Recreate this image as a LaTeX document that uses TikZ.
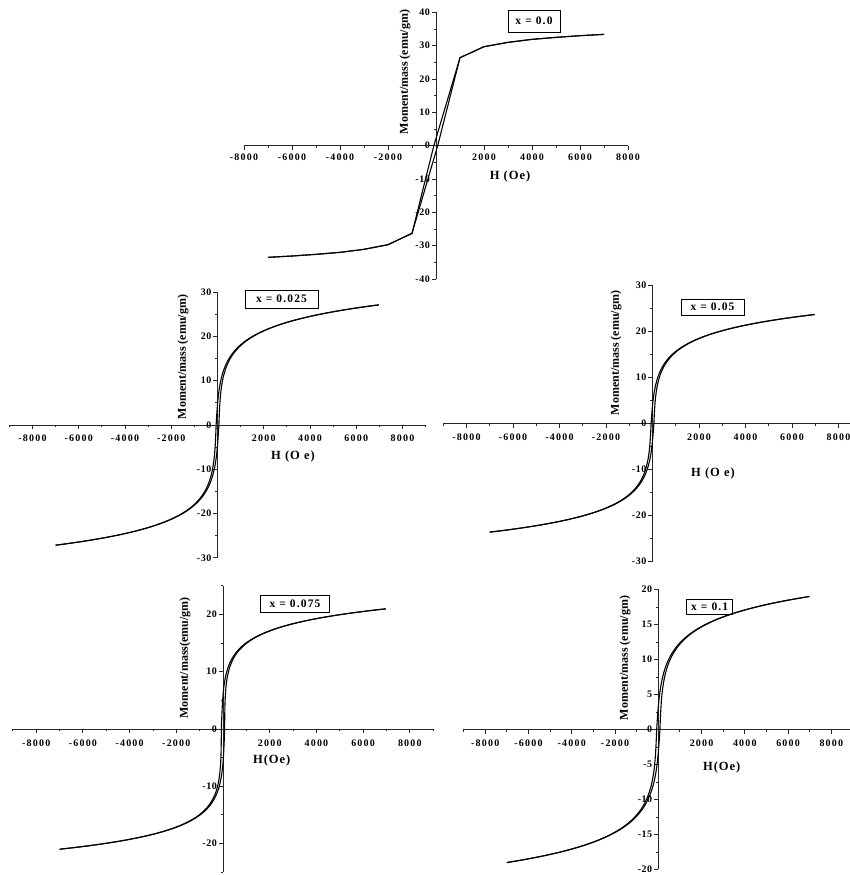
\documentclass[tikz,border=0pt]{standalone}
\usepackage{fontspec}
\setmainfont{Liberation Serif}
\tikzset{
  axisline/.style={line width=0.9pt, draw=black!85},
  curve/.style={line width=1.1pt, draw=black},
  tlab/.style={inner sep=0pt, font=\fontsize{10}{11}\selectfont\bfseries\addfontfeature{LetterSpace=12}},
  ylab/.style={inner sep=0pt, anchor=east, font=\fontsize{10}{11}\selectfont\bfseries\addfontfeature{LetterSpace=5}},
  axtitle/.style={inner sep=0pt, font=\fontsize{12}{13}\selectfont\bfseries},
  xtitle/.style={inner sep=0pt, font=\fontsize{12.5}{13}\selectfont\bfseries\addfontfeature{LetterSpace=8}},
  xbox/.style={draw, line width=0.8pt, inner sep=0pt, font=\fontsize{11.5}{12}\selectfont\bfseries\addfontfeature{LetterSpace=10}}
}
\newcommand\hxaxis[3]{%
  \draw[axisline] (-#2,0) -- (#2,0);
  \foreach \k in {-#2,...,#2} \draw[axisline] (\k,0) -- ++(0,-2.5pt);
  \foreach \k in {-8,-6,-4,-2,2,4,6,8} \draw[axisline] (\k,0) -- ++(0,-4.5pt);
  \foreach \k in {-8,-6,-4,-2,2,4,6,8} \node[tlab, yshift=-#3] (#1x\k) at (\k,0) {\k000};
}
\begin{document}
\begin{tikzpicture}[x=1pt,y=1pt]
\useasboundingbox (0,0) rectangle (849,875);

% ---------------- Panel 1: x = 0.0
\begin{scope}[shift={(436pt,729.3pt)}, x=24pt, y=3.333pt]
  \hxaxis{pa}{8}{11.5pt}
  \draw[axisline] (0,-40) -- (0,40);
  \foreach \m in {-40,-35,...,40} \draw[axisline] (0,\m) -- ++(-2.5pt,0);
  \foreach \m in {-40,-30,...,40} {\draw[axisline] (0,\m) -- ++(-4.5pt,0);
    \node[ylab, xshift=-6pt] (pay\m) at (0,\m) {\m};}
  \draw[curve] (-7,-33.5) -- (-6,-33.1) -- (-5,-32.6) -- (-4,-32) -- (-3,-31.1) -- (-2,-29.7) -- (-1,-26.3)
     -- (-0.09,0) -- (1,26.4) -- (2,29.7) -- (3,31) -- (4,31.9) -- (5,32.5) -- (6,33) -- (7,33.4);
  \draw[curve] (-7,-33.5) -- (-6,-33.1) -- (-5,-32.6) -- (-4,-32) -- (-3,-31.1) -- (-2,-29.7) -- (-1,-26.3)
     -- (0.07,0) -- (1,26.4) -- (2,29.7) -- (3,31) -- (4,31.9) -- (5,32.5) -- (6,33) -- (7,33.4);
\end{scope}
\node[xbox, minimum width=52pt, minimum height=22pt] (box1) at (534,854) {x = 0.0};
\node[axtitle, rotate=90] (ylab1) at (405,803) {Moment/mass (emu/gm)};
\node[xtitle] (xlab1) at (510,698) {H (Oe)};

% ---------------- Panel 2: x = 0.025
\begin{scope}[shift={(217.5pt,450pt)}, x=23.125pt, y=4.43pt]
  \hxaxis{pb}{9}{13.5pt}
  \draw[axisline] (0,-30) -- (0,30);
  \foreach \m in {-30,-25,...,30} \draw[axisline] (0,\m) -- ++(-2.5pt,0);
  \foreach \m in {-30,-20,...,30} {\draw[axisline] (0,\m) -- ++(-4.5pt,0);
    \node[ylab, xshift=-6pt] (pby\m) at (0,\m) {\m};}
  \draw[curve] plot[domain=-5.786:5.786, samples=241, variable=\t] ({0.043*sinh(\t)-0.06*(1-abs(\t)/5.786)},{4.69*\t});
  \draw[curve] plot[domain=-5.786:5.786, samples=241, variable=\t] ({0.043*sinh(\t)+0.06*(1-abs(\t)/5.786)},{4.69*\t});
\end{scope}
\node[xbox, minimum width=73pt, minimum height=18pt] (box2) at (281.5,576) {x = 0.025};
\node[axtitle, rotate=90] (ylab2) at (183,518) {Moment/mass (emu/gm)};
\node[xtitle] (xlab2) at (293,419) {H (O e)};

% ---------------- Panel 3: x = 0.05
\begin{scope}[shift={(652.5pt,451.7pt)}, x=23.25pt, y=4.61pt]
  \hxaxis{pc}{9}{13.5pt}
  \draw[axisline] (0,-30) -- (0,30);
  \foreach \m in {-30,-25,...,30} \draw[axisline] (0,\m) -- ++(-2.5pt,0);
  \foreach \m in {-30,-20,...,30} {\draw[axisline] (0,\m) -- ++(-4.5pt,0);
    \node[ylab, xshift=-6pt] (pcy\m) at (0,\m) {\m};}
  \draw[curve] plot[domain=-5.676:5.676, samples=241, variable=\t] ({0.048*sinh(\t)-0.06*(1-abs(\t)/5.676)},{4.16*\t});
  \draw[curve] plot[domain=-5.676:5.676, samples=241, variable=\t] ({0.048*sinh(\t)+0.06*(1-abs(\t)/5.676)},{4.16*\t});
\end{scope}
\node[xbox, minimum width=63pt, minimum height=16pt] (box3) at (712.5,568) {x = 0.05};
\node[axtitle, rotate=90] (ylab3) at (616,522) {Moment/mass (emu/gm)};
\node[xtitle] (xlab3) at (713,402) {H (O e)};

% ---------------- Panel 4: x = 0.075
\begin{scope}[shift={(223pt,146pt)}, x=23.35pt, y=5.73pt]
  \hxaxis{pd}{9}{14pt}
  \draw[axisline] (0,-25) -- (0,25);
  \foreach \m in {-25,-20,...,25} \draw[axisline] (0,\m) -- ++(-2.5pt,0);
  \foreach \m in {-20,-10,...,20} {\draw[axisline] (0,\m) -- ++(-4.5pt,0);
    \node[ylab, xshift=-6pt] (pdy\m) at (0,\m) {\m};}
  \draw[curve] plot[domain=-6.812:6.812, samples=281, variable=\t] ({0.0154*sinh(\t)-0.07*(1-abs(\t)/6.812)},{3.08*\t});
  \draw[curve] plot[domain=-6.812:6.812, samples=281, variable=\t] ({0.0154*sinh(\t)+0.07*(1-abs(\t)/6.812)},{3.08*\t});
\end{scope}
\node[xbox, minimum width=69pt, minimum height=17pt] (box4) at (295,271) {x = 0.075};
\node[axtitle, rotate=90] (ylab4) at (185,217) {Moment/mass(emu/gm)};
\node[xtitle] (xlab4) at (271.7,115) {H(Oe)};

% ---------------- Panel 5: x = 0.1
\begin{scope}[shift={(658.3pt,145.5pt)}, x=21.63pt, y=7.0pt]
  \hxaxis{pe}{9}{14pt}
  \draw[axisline] (0,-20) -- (0,20);
  \foreach \m in {-20,-17.5,...,20} \draw[axisline] (0,\m) -- ++(-2.5pt,0);
  \foreach \m in {-20,-15,...,20} {\draw[axisline] (0,\m) -- ++(-4.5pt,0);
    \node[ylab, xshift=-6pt] (pey\m) at (0,\m) {\m};}
  \draw[curve] plot[domain=-5.509:5.509, samples=241, variable=\t] ({0.0567*sinh(\t)-0.075*(1-abs(\t)/5.509)},{3.45*\t});
  \draw[curve] plot[domain=-5.509:5.509, samples=241, variable=\t] ({0.0567*sinh(\t)+0.075*(1-abs(\t)/5.509)},{3.45*\t});
\end{scope}
\node[xbox, minimum width=46pt, minimum height=15pt] (box5) at (709.7,268.5) {x = 0.1};
\node[axtitle, rotate=90] (ylab5) at (625,217) {Moment/mass (emu/gm)};
\node[xtitle] (xlab5) at (721.7,107.3) {H(Oe)};
\end{tikzpicture}
\end{document}
